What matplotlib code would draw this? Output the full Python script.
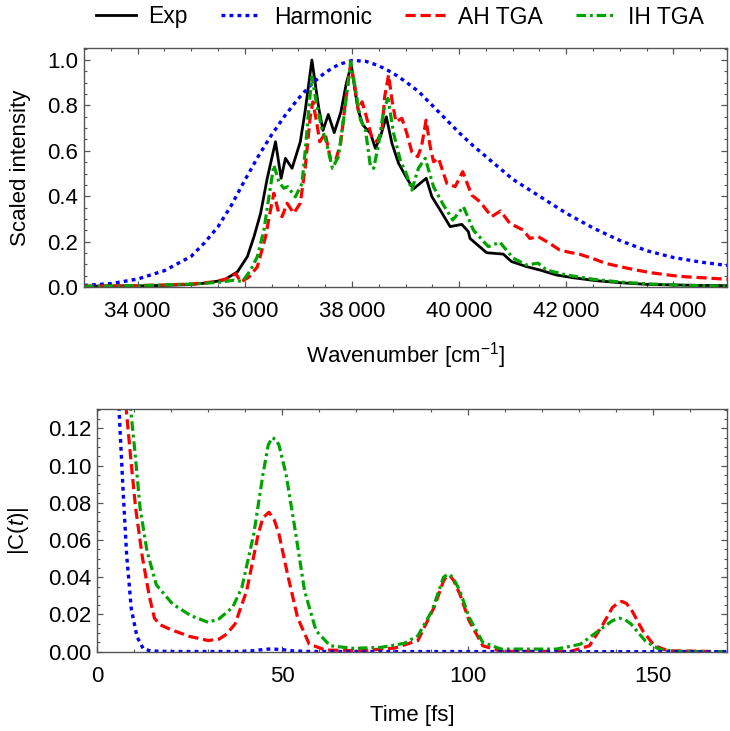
import matplotlib
matplotlib.use("Agg")
import matplotlib.pyplot as plt
from matplotlib.ticker import MultipleLocator, FuncFormatter
from matplotlib.lines import Line2D

plt.rcParams['font.family'] = ['Liberation Sans', 'DejaVu Sans']
plt.rcParams['mathtext.fontset'] = 'custom'
plt.rcParams['mathtext.rm'] = 'Liberation Sans'
plt.rcParams['mathtext.it'] = 'Liberation Sans:italic'

# ---------------- data: spectra ----------------
exp_wn = [33000, 33500, 34000, 34500, 35000, 35300, 35617, 35864, 36049, 36173, 36296, 36420,
          36574, 36679, 36759, 36883, 37037, 37130, 37253, 37380, 37460, 37560, 37670, 37795,
          37895, 37988, 38056, 38117, 38204, 38346, 38438, 38531, 38642, 38747, 38870, 39025,
          39148, 39387, 39492, 39647, 39833, 40050, 40173, 40204, 40514, 40824, 40979, 41258,
          41506, 41815, 42125, 42552, 43000, 43484, 44000, 44500, 45000]
exp_int = [0.004, 0.004, 0.005, 0.007, 0.011, 0.018, 0.031, 0.067, 0.134, 0.222, 0.325, 0.479,
           0.640, 0.479, 0.567, 0.523, 0.640, 0.780, 1.000, 0.790, 0.690, 0.760, 0.680, 0.772,
           0.897, 0.978, 0.868, 0.780, 0.714, 0.677, 0.611, 0.662, 0.750, 0.633, 0.545, 0.479,
           0.432, 0.479, 0.398, 0.339, 0.266, 0.276, 0.244, 0.214, 0.151, 0.145, 0.112, 0.090,
           0.075, 0.053, 0.041, 0.028, 0.019, 0.012, 0.009, 0.007, 0.006]

harm_wn = [33000, 33500, 34000, 34500, 35000, 35250, 35500, 35750, 36000, 36250, 36500, 36750,
           37000, 37250, 37500, 37750, 38000, 38250, 38500, 38750, 39000, 39250, 39500, 39750,
           40000, 40250, 40500, 40750, 41000, 41500, 42000, 42500, 43000, 43500, 44000, 44500, 45000]
harm_int = [0.007, 0.015, 0.035, 0.072, 0.135, 0.195, 0.265, 0.360, 0.470, 0.575, 0.670, 0.755,
            0.830, 0.895, 0.945, 0.980, 0.998, 0.995, 0.975, 0.945, 0.905, 0.860, 0.800, 0.740,
            0.680, 0.625, 0.575, 0.525, 0.475, 0.400, 0.325, 0.260, 0.205, 0.160, 0.130, 0.110, 0.095]

ah_wn = [33000, 34000, 34500, 35000, 35400, 35650, 35833, 35926, 36080, 36235, 36389, 36481,
         36543, 36636, 36698, 36790, 36914, 37037, 37130, 37222, 37272, 37346, 37400, 37500,
         37605, 37698, 37790, 37883, 37977, 38056, 38117, 38191, 38253, 38377, 38469, 38562,
         38611, 38685, 38747, 38821, 38932, 39025, 39117, 39228, 39300, 39384, 39460, 39523,
         39616, 39771, 39926, 40068, 40235, 40390, 40607, 40774, 40948, 41196, 41320, 41475,
         41691, 41877, 42094, 42242, 42500, 42739, 43000, 43300, 43608, 44000, 44229, 44600, 45000]
ah_int = [0.003, 0.006, 0.009, 0.013, 0.022, 0.035, 0.059, 0.022, 0.044, 0.089, 0.222, 0.339,
          0.413, 0.325, 0.310, 0.369, 0.325, 0.369, 0.530, 0.750, 0.816, 0.720, 0.640, 0.677,
          0.560, 0.560, 0.633, 0.824, 0.985, 0.882, 0.780, 0.816, 0.765, 0.655, 0.640, 0.692,
          0.838, 0.934, 0.824, 0.728, 0.743, 0.677, 0.596, 0.574, 0.620, 0.735, 0.620, 0.552,
          0.567, 0.457, 0.442, 0.508, 0.405, 0.376, 0.310, 0.335, 0.280, 0.251, 0.214, 0.222,
          0.192, 0.163, 0.151, 0.145, 0.125, 0.104, 0.090, 0.075, 0.062, 0.050, 0.045, 0.040, 0.034]

ih_wn = [33000, 34000, 34500, 35000, 35500, 35800, 35957, 36111, 36235, 36358, 36451, 36543,
         36636, 36728, 36800, 36944, 37068, 37130, 37210, 37253, 37346, 37438, 37520, 37636,
         37747, 37852, 37977, 38068, 38160, 38253, 38346, 38407, 38500, 38593, 38673, 38778,
         38901, 39025, 39117, 39241, 39368, 39523, 39709, 39882, 40081, 40266, 40545, 40762,
         41010, 41258, 41475, 41630, 42002, 42500, 43000, 43500, 44000, 44500, 45000]
ih_int = [0.003, 0.006, 0.009, 0.013, 0.020, 0.030, 0.024, 0.075, 0.134, 0.251, 0.397, 0.537,
          0.464, 0.435, 0.442, 0.397, 0.456, 0.603, 0.823, 0.926, 0.800, 0.700, 0.640, 0.523,
          0.574, 0.750, 0.993, 0.868, 0.736, 0.692, 0.530, 0.523, 0.633, 0.780, 0.831, 0.677,
          0.560, 0.493, 0.427, 0.523, 0.567, 0.442, 0.361, 0.295, 0.354, 0.251, 0.178, 0.197,
          0.127, 0.097, 0.105, 0.075, 0.053, 0.034, 0.022, 0.014, 0.009, 0.006, 0.004]

# ---------------- data: autocorrelation ----------------
harm_t = [0, 3, 5, 6, 7, 8, 9.25, 10.8, 12.5, 14.5, 20, 38, 42, 45, 47, 50, 53, 58, 170]
harm_c = [1.0, 0.55, 0.22, 0.128, 0.088, 0.052, 0.023, 0.008, 0.0015, 0.0004, 0.0001, 0.0001,
          0.0005, 0.0012, 0.0015, 0.0011, 0.0004, 0.0001, 0.0]

ah_t = [0, 4, 6, 7, 7.9, 9.1, 10.4, 12.25, 14.1, 15.5, 17, 20, 25, 30, 33, 35, 37.25, 40.4,
        43.5, 44.8, 46.4, 47.8, 49.1, 51.6, 54.1, 57.25, 61.6, 71.6, 80.4, 86.6, 91, 93.5,
        94.2, 95.2, 96.3, 97.9, 100.4, 104.1, 109, 127.9, 132.9, 136.6, 139.1, 140.5, 141.6,
        142.8, 144.1, 147.25, 150.4, 154.1, 170]
ah_c = [1.0, 0.5, 0.27, 0.19, 0.13, 0.104, 0.0775, 0.0507, 0.030, 0.018, 0.0145, 0.0118,
        0.0082, 0.0060, 0.0068, 0.0095, 0.0149, 0.0328, 0.0632, 0.072, 0.0749, 0.071, 0.0632,
        0.040, 0.0185, 0.0041, 0.0009, 0.0005, 0.002, 0.006, 0.024, 0.038, 0.040, 0.041, 0.038,
        0.031, 0.0167, 0.0032, 0.0002, 0.0002, 0.0032, 0.0149, 0.0238, 0.026, 0.027, 0.026,
        0.023, 0.0113, 0.0032, 0.0005, 0.0]

ih_t = [0, 5, 7, 8.5, 9.1, 10.4, 11.6, 13.5, 16, 20.4, 25.4, 30, 32.9, 36.6, 39.1, 42.3, 44.8,
        46.2, 47.25, 48.3, 49.1, 51, 53.5, 56, 59.1, 62.9, 69.1, 76.6, 82.9, 86.6, 90.4, 93.5,
        94.75, 96, 97.9, 100.4, 104.1, 109, 124, 130.4, 135.4, 139.1, 141, 142.5, 144.1, 147.9,
        151.6, 156, 170]
ih_c = [1.0, 0.35, 0.22, 0.15, 0.13, 0.104, 0.0775, 0.054, 0.036, 0.0256, 0.0193, 0.0158,
        0.0176, 0.0238, 0.0346, 0.0632, 0.0955, 0.111, 0.115, 0.114, 0.111, 0.0955, 0.065,
        0.0328, 0.0113, 0.0032, 0.0018, 0.0023, 0.0045, 0.0086, 0.022, 0.040, 0.0417, 0.040,
        0.0328, 0.0185, 0.005, 0.0014, 0.0014, 0.004, 0.0113, 0.0167, 0.018, 0.0172, 0.0149,
        0.0059, 0.0014, 0.0002, 0.0]

labels = ["Exp", "Harmonic", "AH TGA", "IH TGA"]

# ---------------- styles ----------------
BLUE = '#0000ff'
RED = '#ff0000'
GREEN = '#00a400'
LW = 2.3
FRAME = '#555555'
styles = {
    'exp': dict(color='black', lw=2.0, linestyle='-'),
    'harm': dict(color=BLUE, lw=2.4, linestyle=(0, (1.15, 1.25))),
    'ah': dict(color=RED, lw=LW, linestyle=(0, (3.2, 1.5))),
    'ih': dict(color=GREEN, lw=LW, linestyle=(0, (3.0, 1.2, 0.9, 1.2))),
}

fig = plt.figure(figsize=(7.3, 7.31), dpi=100)
W, H = 730.0, 731.0
ax1 = fig.add_axes([84 / W, 1 - 287 / H, (727 - 84) / W, (287 - 48) / H])
ax2 = fig.add_axes([97 / W, 1 - 651.7 / H, (727 - 97) / W, (651.7 - 409) / H])

ax1.plot(exp_wn, exp_int, **styles['exp'])
ax1.plot(harm_wn, harm_int, **styles['harm'])
ax1.plot(ah_wn, ah_int, **styles['ah'])
ax1.plot(ih_wn, ih_int, **styles['ih'])

ax2.plot(ah_t, ah_c, **styles['ah'])
ax2.plot(ih_t, ih_c, **styles['ih'])
ax2.plot(harm_t, harm_c, **styles['harm'])

ax1.set_xlim(33000, 45000)
ax1.set_ylim(0, 1.053)
ax2.set_xlim(0, 170)
ax2.set_ylim(0, 0.1304)

ax1.xaxis.set_major_locator(MultipleLocator(2000))
ax1.xaxis.set_minor_locator(MultipleLocator(500))
ax1.yaxis.set_major_locator(MultipleLocator(0.2))
ax1.yaxis.set_minor_locator(MultipleLocator(0.05))
ax1.xaxis.set_major_formatter(FuncFormatter(lambda v, p: f"{int(round(v)):,}".replace(",", "\u2009")))
ax1.yaxis.set_major_formatter(FuncFormatter(lambda v, p: f"{v:.1f}"))

ax2.xaxis.set_major_locator(MultipleLocator(50))
ax2.xaxis.set_minor_locator(MultipleLocator(10))
ax2.yaxis.set_major_locator(MultipleLocator(0.02))
ax2.yaxis.set_minor_locator(MultipleLocator(0.005))
ax2.xaxis.set_major_formatter(FuncFormatter(lambda v, p: f"{int(round(v))}"))
ax2.yaxis.set_major_formatter(FuncFormatter(lambda v, p: f"{v:.2f}"))

for ax in (ax1, ax2):
    for sp in ax.spines.values():
        sp.set_color(FRAME)
        sp.set_linewidth(1.0)
    ax.tick_params(which='both', direction='in', top=True, right=True, color=FRAME,
                   labelsize=16, labelcolor='black')
    ax.tick_params(which='major', length=4.5, width=0.9)
    ax.tick_params(which='minor', length=2.5, width=0.8)
    ax.tick_params(axis='x', which='major', pad=10)
    ax.tick_params(axis='y', which='major', pad=4)

ax1.set_xlabel("Wavenumber [cm$^{-1}$]", fontsize=16, labelpad=13)
ax1.set_ylabel("Scaled intensity", fontsize=16, labelpad=12)
ax2.set_xlabel("Time [fs]", fontsize=16, labelpad=13)
ax2.set_ylabel("|C($t$)|", fontsize=16, labelpad=12)

handles = [Line2D([], [], **styles[k]) for k in ('exp', 'harm', 'ah', 'ih')]
fig.legend(handles, labels, loc='center', bbox_to_anchor=(400 / W, 1 - 17 / H), ncol=4,
           frameon=False, fontsize=16.5, handlelength=1.75, handletextpad=0.55,
           columnspacing=1.45, borderpad=0, borderaxespad=0)

fig.savefig("out.png", dpi=100)
